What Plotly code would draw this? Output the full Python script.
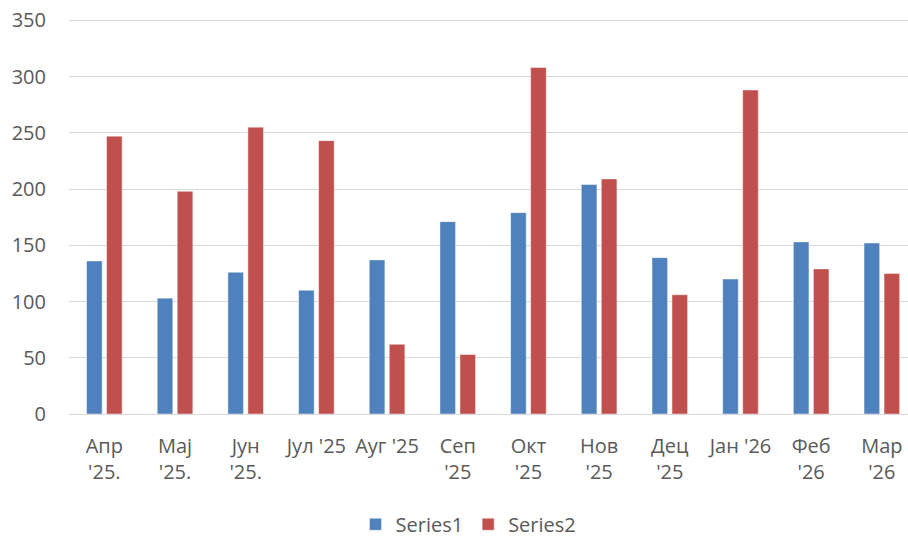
import plotly.graph_objects as go

categories = ["Апр<br>'25.", "Мај<br>'25.", "Јун<br>'25.", "Јул '25", "Ауг '25", "Сеп<br>'25",
              "Окт<br>'25", "Нов<br>'25", "Дец<br>'25", "Јан '26", "Феб<br>'26", "Мар<br>'26"]
series1 = [136, 103, 126, 110, 137, 171, 179, 204, 139, 120, 153, 152]
series2 = [247, 198, 255, 243, 62, 53, 308, 209, 106, 288, 129, 125]
y_ticks = [0, 50, 100, 150, 200, 250, 300, 350]

FONT = "Open Sans"
TXT = "#595959"

fig = go.Figure()
fig.add_trace(go.Bar(name="Series1", x=list(range(len(categories))), y=series1,
                     marker=dict(color="#4F81BD", line=dict(color="rgba(255,255,255,0.45)", width=1))))
fig.add_trace(go.Bar(name="Series2", x=list(range(len(categories))), y=series2,
                     marker=dict(color="#C0504D", line=dict(color="rgba(255,255,255,0.45)", width=1))))

fig.update_layout(
    width=908, height=541,
    margin=dict(l=69, r=0, t=18, b=127, autoexpand=False),
    paper_bgcolor="white", plot_bgcolor="white",
    barmode="group", bargap=0.434, bargroupgap=0.22,
    font=dict(family=FONT, size=20, color=TXT),
    showlegend=True,
    legend=dict(orientation="h", xref="container", yref="container",
                x=0.516, xanchor="center", y=0.031, yanchor="middle",
                font=dict(family=FONT, size=20, color=TXT), itemwidth=30, tracegroupgap=0),
)
fig.update_xaxes(range=[-0.5, 11.37], tickmode="array", tickvals=list(range(len(categories))),
                 ticktext=categories, showgrid=False, showline=False, zeroline=False, automargin=False,
                 tickfont=dict(family=FONT, size=20, color=TXT), ticks="", ticklabelstandoff=18)
fig.update_yaxes(range=[0, 352], tickmode="array", tickvals=y_ticks, automargin=False,
                 showgrid=True, gridcolor="#D9D9D9", gridwidth=1, zeroline=True,
                 zerolinecolor="#D9D9D9", zerolinewidth=1, showline=False,
                 tickfont=dict(family=FONT, size=20, color=TXT), ticklabelstandoff=22, ticks="")

fig.write_html("out.html", config={"displayModeBar": False},
               post_script="document.body.style.margin='0';document.body.style.overflow='hidden';")
